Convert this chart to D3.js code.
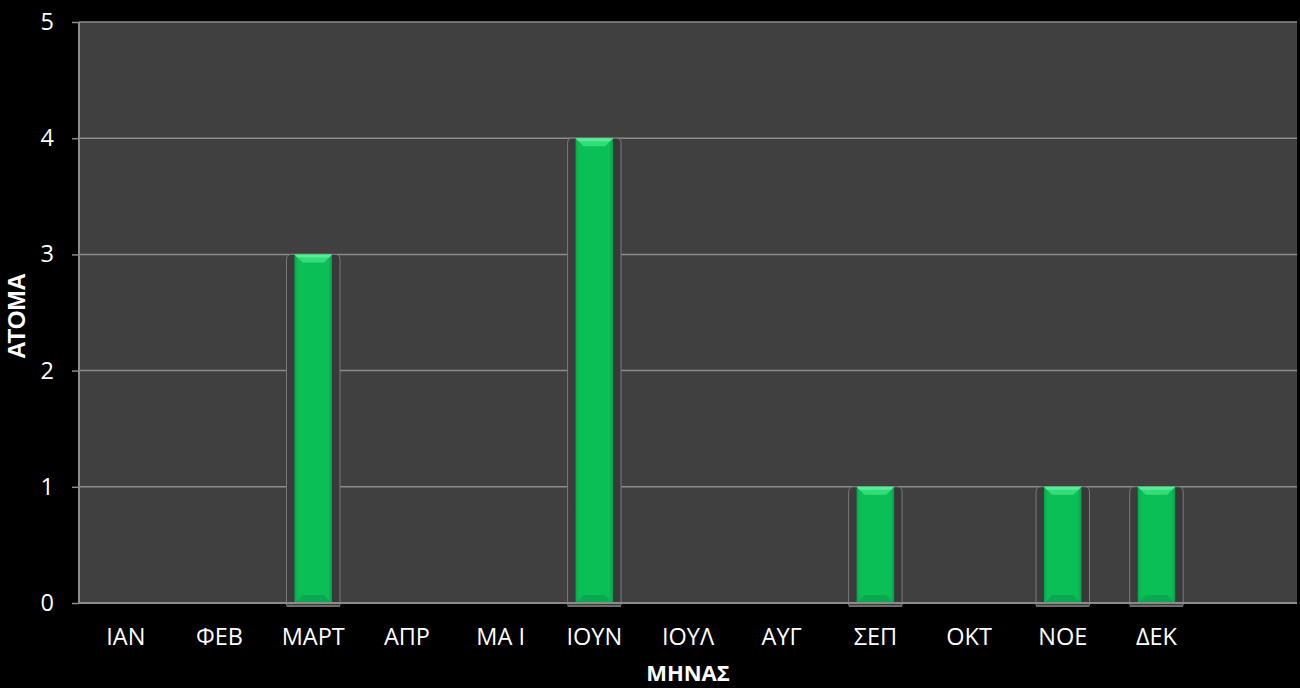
<!DOCTYPE html>
<html>
<head>
<meta charset="utf-8">
<script src="https://cdn.jsdelivr.net/npm/d3@7"></script>
<style>
  html, body { margin: 0; padding: 0; background: #000; }
  svg { display: block; }
</style>
</head>
<body>
<svg id="chart" width="1300" height="688"></svg>
<script>
// Monthly counts (persons per month)
const months = ["IAN", "ΦΕΒ", "ΜΑΡΤ", "ΑΠΡ", "ΜΑ Ι", "ΙΟΥΝ", "ΙΟΥΛ", "ΑΥΓ", "ΣΕΠ", "ΟΚΤ", "ΝΟΕ", "ΔΕΚ", ""];
const counts = [0, 0, 3, 0, 0, 4, 0, 0, 1, 0, 1, 1, null];
const yTicks = [0, 1, 2, 3, 4, 5];
const xTitle = "ΜΗΝΑΣ";
const yTitle = "ΑΤΟΜΑ";

const svg = d3.select("#chart");
const plot = { left: 79, right: 1297, top: 22, bottom: 603 };

const x = d3.scaleBand().domain(months).range([plot.left, plot.right]).padding(0);
const y = d3.scaleLinear().domain([0, 5]).range([plot.bottom, plot.top]);

const defs = svg.append("defs");
const g = defs.append("linearGradient").attr("id", "barFill").attr("x1", 0).attr("x2", 1).attr("y1", 0).attr("y2", 0);
g.append("stop").attr("offset", "0%").attr("stop-color", "#07a94c");
g.append("stop").attr("offset", "10%").attr("stop-color", "#0bbf57");
g.append("stop").attr("offset", "90%").attr("stop-color", "#0bbf57");
g.append("stop").attr("offset", "100%").attr("stop-color", "#06a049");

const sh = defs.append("linearGradient").attr("id", "shadowFill").attr("x1", 0).attr("x2", 1).attr("y1", 0).attr("y2", 0);
sh.append("stop").attr("offset", "0%").attr("stop-color", "#3c3c3c");
sh.append("stop").attr("offset", "70%").attr("stop-color", "#363636");
sh.append("stop").attr("offset", "100%").attr("stop-color", "#3a3a3a");

// plot background
svg.append("rect")
  .attr("x", plot.left).attr("y", plot.top)
  .attr("width", plot.right - plot.left).attr("height", plot.bottom - plot.top)
  .attr("fill", "#404040");

// horizontal gridlines
svg.append("g")
  .selectAll("line")
  .data(yTicks.filter(d => d > 0))
  .join("line")
  .attr("x1", plot.left).attr("x2", plot.right)
  .attr("y1", d => y(d)).attr("y2", d => y(d))
  .attr("stroke", "#8c8c8c").attr("stroke-width", 1.5);

// bars
const bw = x.bandwidth() * 0.4;
const barData = months.map((m, i) => ({ m, v: counts[i] })).filter(d => d.v > 0);

const bars = svg.append("g").selectAll("g").data(barData).join("g")
  .attr("transform", d => `translate(${x(d.m) + (x.bandwidth() - bw) / 2},0)`);

// soft shadow frame behind each bar
bars.append("path")
  .attr("d", d => {
    const x0 = -8, x1 = bw + 8, t = y(d.v), b = y(0) + 2, r = 5;
    return `M${x0},${b} L${x0},${t + r} Q${x0},${t} ${x0 + r},${t} L${x1 - r},${t} Q${x1},${t} ${x1},${t + r} L${x1},${b}`;
  })
  .attr("fill", "url(#shadowFill)")
  .attr("stroke", "#7a7a7a").attr("stroke-width", 1);

// reflection line under bar
bars.append("line")
  .attr("x1", -8).attr("x2", bw + 8)
  .attr("y1", y(0) + 3).attr("y2", y(0) + 3)
  .attr("stroke", "#d8d8d8").attr("stroke-width", 1.2);

// bar body
bars.append("rect")
  .attr("x", 0).attr("width", bw)
  .attr("y", d => y(d.v)).attr("height", d => y(0) - y(d.v))
  .attr("fill", "url(#barFill)");

// top bevel
bars.append("path")
  .attr("d", d => {
    const t = y(d.v);
    return `M0,${t} L${bw},${t} L${bw - 8},${t + 8} L8,${t + 8} Z`;
  })
  .attr("fill", "#35dd7a");

bars.append("path")
  .attr("d", d => {
    const t = y(d.v);
    return `M0,${t} L${bw},${t} L${bw - 3},${t + 3} L3,${t + 3} Z`;
  })
  .attr("fill", "#59ec96");

// bottom bevel
bars.append("path")
  .attr("d", () => {
    const b = y(0);
    return `M0,${b} L${bw},${b} L${bw - 8},${b - 8} L8,${b - 8} Z`;
  })
  .attr("fill", "#08aa4d");

// axes lines
svg.append("line")
  .attr("x1", plot.left).attr("x2", plot.left)
  .attr("y1", plot.top).attr("y2", plot.bottom)
  .attr("stroke", "#8c8c8c").attr("stroke-width", 2);
svg.append("line")
  .attr("x1", plot.left).attr("x2", plot.right)
  .attr("y1", plot.bottom).attr("y2", plot.bottom)
  .attr("stroke", "#8c8c8c").attr("stroke-width", 2);

// y axis
const yAxis = d3.axisLeft(y).tickValues(yTicks).tickFormat(d3.format("d")).tickSize(7).tickPadding(18);
const ya = svg.append("g").attr("transform", `translate(${plot.left},0)`).call(yAxis);
ya.select(".domain").remove();
ya.selectAll(".tick line").attr("stroke", "#8c8c8c").attr("stroke-width", 1.5);
ya.selectAll(".tick text")
  .attr("fill", "#fff").attr("font-family", "'Open Sans', sans-serif").attr("font-size", 23.5);

// x axis
const xAxis = d3.axisBottom(x).tickSize(0).tickPadding(25);
const xa = svg.append("g").attr("transform", `translate(0,${plot.bottom})`).call(xAxis);
xa.select(".domain").remove();
xa.selectAll(".tick text")
  .attr("fill", "#fff").attr("font-family", "'Open Sans', sans-serif").attr("font-size", 23.5);

// axis titles
svg.append("text")
  .attr("x", (plot.left + plot.right) / 2).attr("y", 681)
  .attr("text-anchor", "middle")
  .attr("fill", "#fff").attr("font-family", "'Open Sans', sans-serif")
  .attr("font-weight", "bold").attr("font-size", 22)
  .text(xTitle);

svg.append("text")
  .attr("transform", `translate(25,316) rotate(-90)`)
  .attr("text-anchor", "middle")
  .attr("fill", "#fff").attr("font-family", "'Liberation Sans', Arial, sans-serif")
  .attr("font-weight", "bold").attr("font-size", 24)
  .text(yTitle);
</script>
</body>
</html>
